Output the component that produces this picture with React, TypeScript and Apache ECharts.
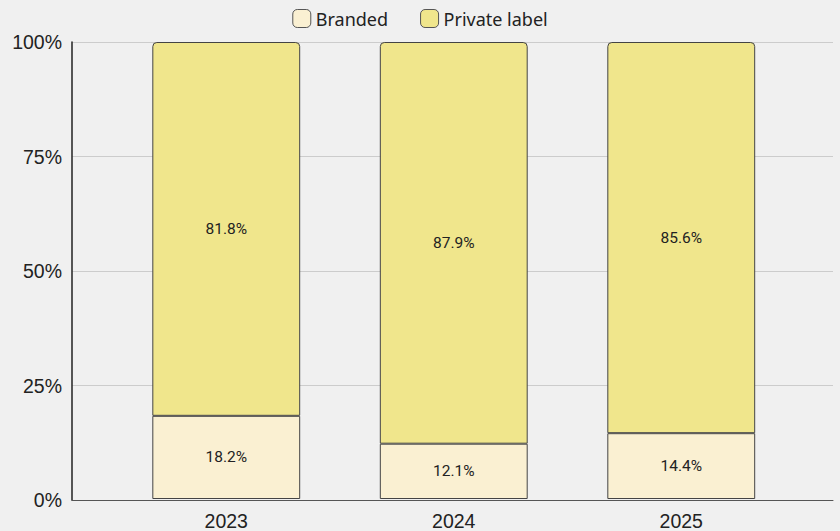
import React, { useEffect, useRef } from "react";
import * as echarts from "echarts";

const years = ["2023", "2024", "2025"];
const branded = [18.2, 12.1, 14.4];
const privateLabel = [81.8, 87.9, 85.6];
const yTicks = [0, 25, 50, 75, 100];

export default function App() {
  const ref = useRef<HTMLDivElement>(null);
  useEffect(() => {
    const chart = echarts.init(ref.current!, null, { renderer: "svg" });
    chart.setOption({
      animation: false,
      backgroundColor: "#f0f0f0",
      textStyle: { fontFamily: "Roboto" },
      legend: {
        top: 4,
        left: "center",
        itemWidth: 18,
        itemHeight: 18,
        itemGap: 32,
        textStyle: { fontSize: 18, color: "#222", fontFamily: "Noto Sans" },
        data: [
          { name: "Branded", itemStyle: { borderColor: "#555", borderWidth: 1, borderRadius: 4 } },
          { name: "Private label", itemStyle: { borderColor: "#555", borderWidth: 1, borderRadius: 4 } },
        ],
      },
      grid: [
        { left: 72, right: 7, top: 42, bottom: 31 },
        { left: 112.5, right: 45, top: 42, bottom: 31 },
      ],
      xAxis: [
        {
          type: "category",
          gridIndex: 0,
          data: [""],
          axisLine: { show: true, lineStyle: { color: "#555", width: 1 } },
          axisTick: { show: false },
          axisLabel: { show: false },
        },
        {
          type: "category",
          gridIndex: 1,
          data: years,
          axisLine: { show: false },
          axisTick: { show: false },
          axisLabel: { fontSize: 19.5, color: "#222", margin: 12, fontFamily: "Liberation Sans" },
        },
      ],
      yAxis: [
        {
          type: "value",
          gridIndex: 0,
          min: 0,
          max: 100,
          interval: 25,
          axisLine: { show: true, lineStyle: { color: "#222", width: 1.5 } },
          axisTick: { show: false },
          splitLine: { show: true, lineStyle: { color: "#cccccc", width: 1 } },
          axisLabel: {
            fontSize: 19.5,
            color: "#222",
            margin: 10,
            fontFamily: "Liberation Sans",
            formatter: (v: number) => (yTicks.includes(v) ? v + "%" : ""),
          },
        },
        {
          type: "value",
          gridIndex: 1,
          min: 0,
          max: 100,
          show: false,
          splitLine: { show: false },
        },
      ],
      series: [
        {
          name: "Branded",
          type: "bar",
          stack: "s",
          xAxisIndex: 1,
          yAxisIndex: 1,
          barWidth: "65%",
          data: branded,
          itemStyle: { color: "#faf0d2", borderColor: "#444", borderWidth: 1 },
          label: {
            show: true,
            position: "inside",
            fontSize: 15.5,
            color: "#222",
            formatter: (p: any) => p.value.toFixed(1) + "%",
          },
        },
        {
          name: "Private label",
          type: "bar",
          stack: "s",
          xAxisIndex: 1,
          yAxisIndex: 1,
          barWidth: "65%",
          data: privateLabel,
          itemStyle: { color: "#f0e68c", borderColor: "#444", borderWidth: 1, borderRadius: [4, 4, 0, 0] },
          label: {
            show: true,
            position: "inside",
            fontSize: 15.5,
            color: "#222",
            formatter: (p: any) => p.value.toFixed(1) + "%",
          },
        },
      ],
    });
    return () => chart.dispose();
  }, []);
  return <div ref={ref} style={{ width: 840, height: 531, position: "absolute", left: 0, top: 0 }} />;
}
